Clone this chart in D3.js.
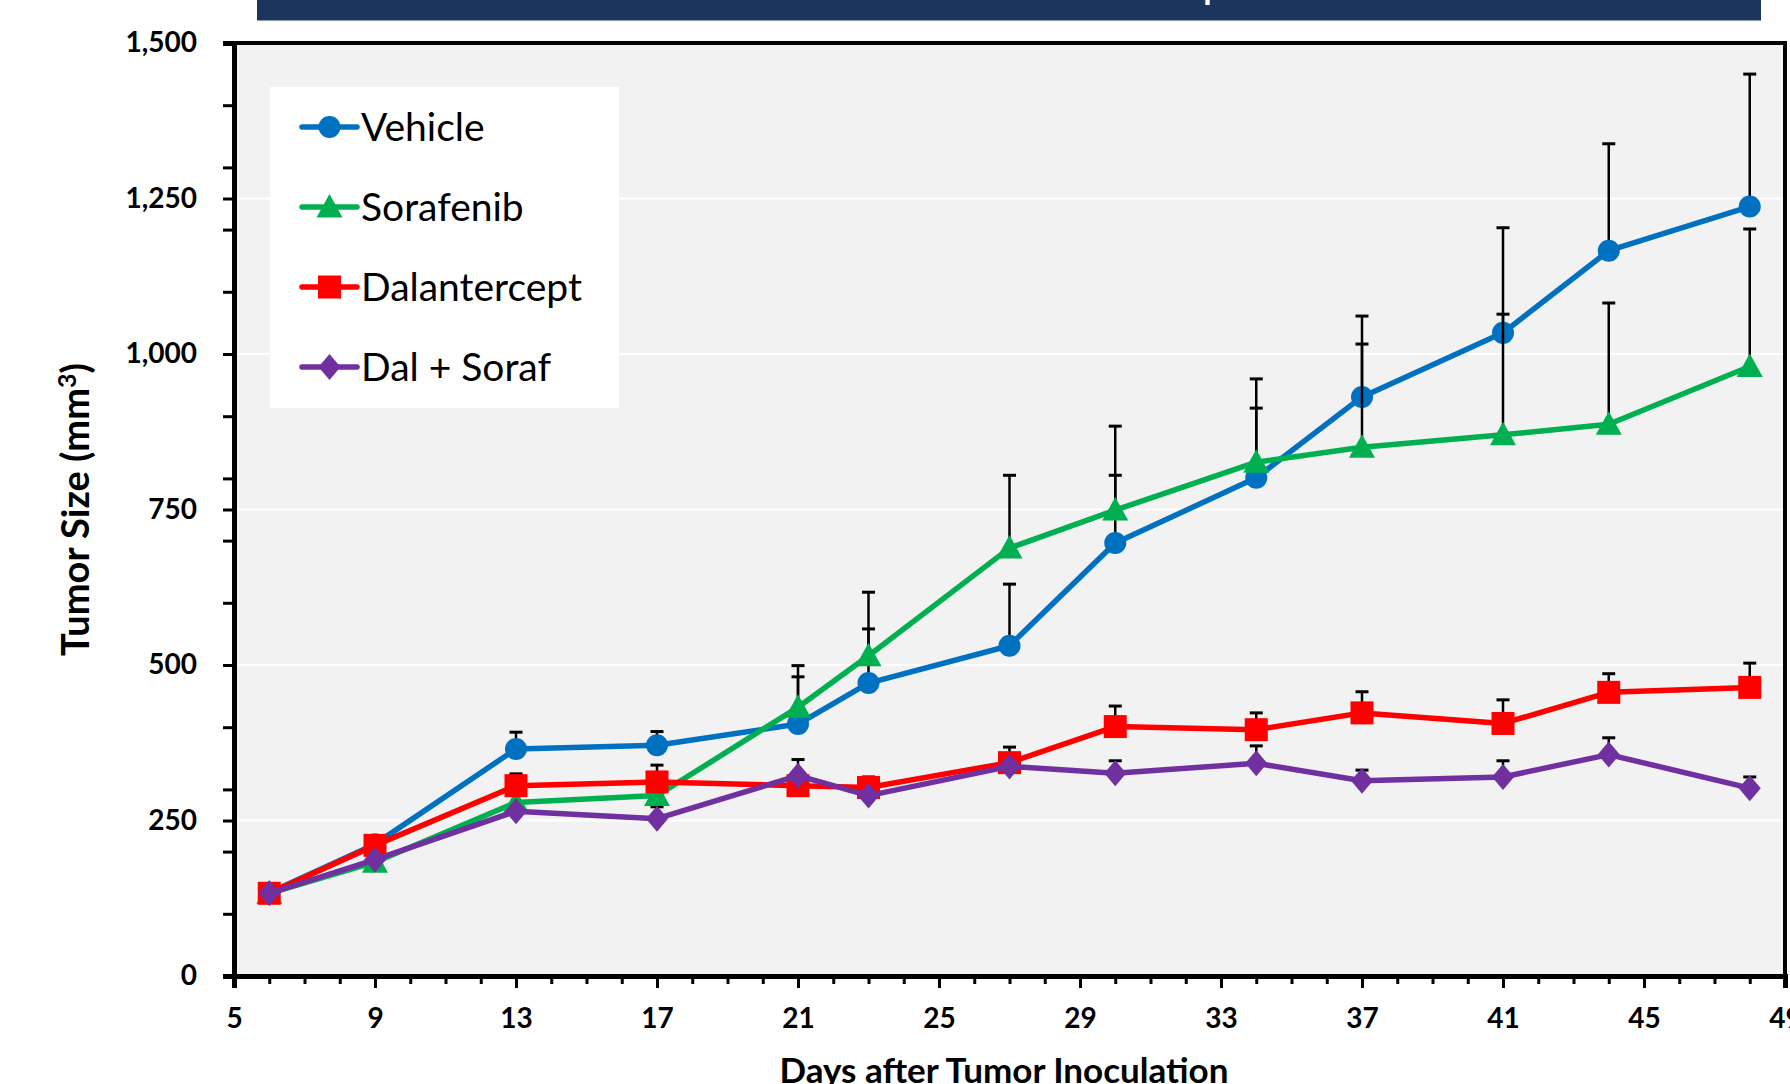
<!DOCTYPE html>
<html>
<head>
<meta charset="utf-8">
<script src="https://cdn.jsdelivr.net/npm/d3@7"></script>
<style>
    body { margin: 0; background: #fff; }
    svg { display: block; font-family: Lato, 'Open Sans', sans-serif; }
</style>
</head>
<body>
<svg id="chart" width="1790" height="1084"></svg>
<script>
// days when the tumors were measured
const days = [6, 9, 13, 17, 21, 23, 27, 30, 34, 37, 41, 44, 48];

// mean tumor size (mm3) and top of error bar for each group
const vehicle = [134, 212, 365, 371, 405, 471, 531, 696, 801, 931, 1034, 1166, 1237];
const vehicleErr = [null, null, 392, 393, 481, 558, 630, 805, 913, 1061, 1203, 1338, 1450];
const sorafenib = [133, 183, 279, 290, 432, 515, 688, 749, 826, 850, 870, 887, 980];
const sorafenibErr = [null, null, null, 272, 499, 617, 805, 884, 960, 1016, 1064, 1082, 1201];
const dalantercept = [133, 210, 306, 312, 306, 303, 343, 401, 396, 423, 406, 456, 464];
const dalanterceptErr = [null, null, 325, 339, null, 320, 368, 434, 423, 457, 444, 486, 503];
const dalSoraf = [133, 187, 265, 253, 322, 290, 337, 326, 342, 314, 320, 356, 302];
const dalSorafErr = [null, null, null, null, 348, null, null, 346, 370, 331, 346, 383, 320];

const groupNames = ['Vehicle', 'Sorafenib', 'Dalantercept', 'Dal + Soraf'];
const groupColors = ['#0070c0', '#00b050', '#ff0000', '#7030a0'];
const groupMarkers = ['circle', 'triangle', 'square', 'diamond'];

const xTicks = [5, 9, 13, 17, 21, 25, 29, 33, 37, 41, 45, 49];
const yTicks = [0, 250, 500, 750, 1000, 1250, 1500];

const groups = [
    {name: groupNames[0], values: vehicle, err: vehicleErr},
    {name: groupNames[1], values: sorafenib, err: sorafenibErr},
    {name: groupNames[2], values: dalantercept, err: dalanterceptErr},
    {name: groupNames[3], values: dalSoraf, err: dalSorafErr}
].map((g, i) => ({...g, color: groupColors[i], marker: groupMarkers[i]}));

const svg = d3.select('#chart');
const plotLeft = 234, plotRight = 1785, plotTop = 43, plotBottom = 976;

const x = d3.scaleLinear().domain([5, 49]).range([plotLeft, plotRight]);
const y = d3.scaleLinear().domain([0, 1500]).range([plotBottom, plotTop]);

// marker shapes, sized like the original
const markerPath = (kind) => {
    const p = d3.path();
    if (kind === 'circle') {
        p.arc(0, 0, 11, 0, 2 * Math.PI);
    } else if (kind === 'triangle') {
        p.moveTo(0, -13); p.lineTo(13, 10.5); p.lineTo(-13, 10.5);
    } else if (kind === 'square') {
        p.rect(-11.5, -11.5, 23, 23);
    } else {
        p.moveTo(0, -13); p.lineTo(11, 0); p.lineTo(0, 13); p.lineTo(-11, 0);
    }
    p.closePath();
    return p.toString();
};

// header band (title cut off at the top of the picture)
svg.append('rect')
    .attr('x', 257).attr('y', 0)
    .attr('width', 1504).attr('height', 20.5)
    .attr('fill', '#1a365d');
svg.append('text')
    .attr('x', 1213).attr('y', -1)
    .attr('text-anchor', 'middle')
    .attr('fill', '#fff')
    .style('font-size', '34px')
    .style('font-weight', 'bold')
    .text('p');

// plot area
svg.append('rect')
    .attr('x', plotLeft).attr('y', plotTop)
    .attr('width', plotRight - plotLeft).attr('height', plotBottom - plotTop)
    .attr('fill', '#f2f2f2');

svg.append('g')
    .selectAll('line')
    .data(yTicks.slice(1, -1))
    .join('line')
    .attr('x1', plotLeft).attr('x2', plotRight)
    .attr('y1', d => y(d)).attr('y2', d => y(d))
    .attr('stroke', '#fff')
    .attr('stroke-width', 2);

// frame of the plot area
svg.append('rect')
    .attr('x', plotLeft).attr('y', plotTop)
    .attr('width', plotRight - plotLeft).attr('height', plotBottom - plotTop)
    .attr('fill', 'none')
    .attr('stroke', '#000')
    .attr('stroke-width', 4);

// minor ticks
svg.append('g')
    .attr('transform', 'translate(0,' + plotBottom + ')')
    .call(d3.axisBottom(x).tickValues(d3.range(5, 50)).tickSize(8).tickFormat(''))
    .call(g => g.select('.domain').remove())
    .selectAll('line').attr('stroke-width', 3);

svg.append('g')
    .attr('transform', 'translate(' + plotLeft + ',0)')
    .call(d3.axisLeft(y).tickValues(d3.range(0, 1501, 100)).tickSize(11).tickFormat(''))
    .call(g => g.select('.domain').remove())
    .selectAll('line').attr('stroke-width', 3);

// major ticks and labels
svg.append('g')
    .classed('x-axis', true)
    .attr('transform', 'translate(0,' + plotBottom + ')')
    .call(d3.axisBottom(x).tickValues(xTicks).tickSize(12).tickPadding(20))
    .call(g => g.select('.domain').attr('stroke-width', 5))
    .call(g => g.selectAll('line').attr('stroke-width', 3))
    .selectAll('text')
    .attr('fill', '#000')
    .style('font-size', '28px')
    .style('font-weight', 'bold')
    .style('font-family', 'Lato, sans-serif');

svg.append('g')
    .classed('y-axis', true)
    .attr('transform', 'translate(' + plotLeft + ',0)')
    .call(d3.axisLeft(y).tickValues(yTicks).tickSize(11).tickPadding(26).tickFormat(d3.format(',')))
    .call(g => g.select('.domain').attr('stroke-width', 5))
    .call(g => g.selectAll('line').attr('stroke-width', 3))
    .selectAll('text')
    .attr('fill', '#000')
    .style('font-size', '28px')
    .style('font-weight', 'bold')
    .style('font-family', 'Lato, sans-serif');

// axis titles
svg.append('text')
    .attr('x', 1004).attr('y', 1083)
    .attr('text-anchor', 'middle')
    .style('font-size', '35px')
    .style('font-weight', 'bold')
    .text('Days after Tumor Inoculation');

const yTitle = svg.append('text')
    .attr('transform', 'translate(89,' + ((plotTop + plotBottom) / 2) + ') rotate(-90)')
    .attr('text-anchor', 'middle')
    .style('font-size', '38px')
    .style('font-weight', 'bold');
yTitle.append('tspan').text('Tumor Size (mm');
yTitle.append('tspan').attr('dy', -13).style('font-size', '25px').text('3');
yTitle.append('tspan').attr('dy', 13).text(')');

// series: error bars, then line, then markers
const line = d3.line()
    .x(d => x(d.day))
    .y(d => y(d.value));

groups.forEach(g => {
    const pts = days.map((day, i) => ({day, value: g.values[i], err: g.err[i]}));
    const layer = svg.append('g').classed('series', true);

    const bars = layer.selectAll('.err')
        .data(pts.filter(d => d.err !== null))
        .join('g')
        .classed('err', true);
    bars.append('line')
        .attr('x1', d => x(d.day)).attr('x2', d => x(d.day))
        .attr('y1', d => y(d.value)).attr('y2', d => y(d.err))
        .attr('stroke', '#000')
        .attr('stroke-width', 2.5);
    bars.append('line')
        .attr('x1', d => x(d.day) - 6.5).attr('x2', d => x(d.day) + 6.5)
        .attr('y1', d => y(d.err)).attr('y2', d => y(d.err))
        .attr('stroke', '#000')
        .attr('stroke-width', 3);

    layer.append('path')
        .datum(pts)
        .attr('d', line)
        .attr('fill', 'none')
        .attr('stroke', g.color)
        .attr('stroke-width', 5.5)
        .attr('stroke-linejoin', 'round');

    layer.selectAll('.marker')
        .data(pts)
        .join('path')
        .classed('marker', true)
        .attr('transform', d => 'translate(' + x(d.day) + ',' + y(d.value) + ')')
        .attr('d', markerPath(g.marker))
        .attr('fill', g.color);
});

// legend
const legend = svg.append('g').classed('legend', true);
legend.append('rect')
    .attr('x', 270).attr('y', 87)
    .attr('width', 349).attr('height', 321)
    .attr('fill', '#fff');

const items = legend.selectAll('.item')
    .data(groups)
    .join('g')
    .classed('item', true)
    .attr('transform', (d, i) => 'translate(0,' + (127 + i * 80) + ')');
items.append('line')
    .attr('x1', 302).attr('x2', 357)
    .attr('stroke', d => d.color)
    .attr('stroke-width', 5.5)
    .attr('stroke-linecap', 'round');
items.append('path')
    .attr('transform', 'translate(329.5,0)')
    .attr('d', d => markerPath(d.marker))
    .attr('fill', d => d.color);
items.append('text')
    .attr('x', 361).attr('y', 14)
    .style('font-size', '39px')
    .text(d => d.name);
</script>
</body>
</html>
